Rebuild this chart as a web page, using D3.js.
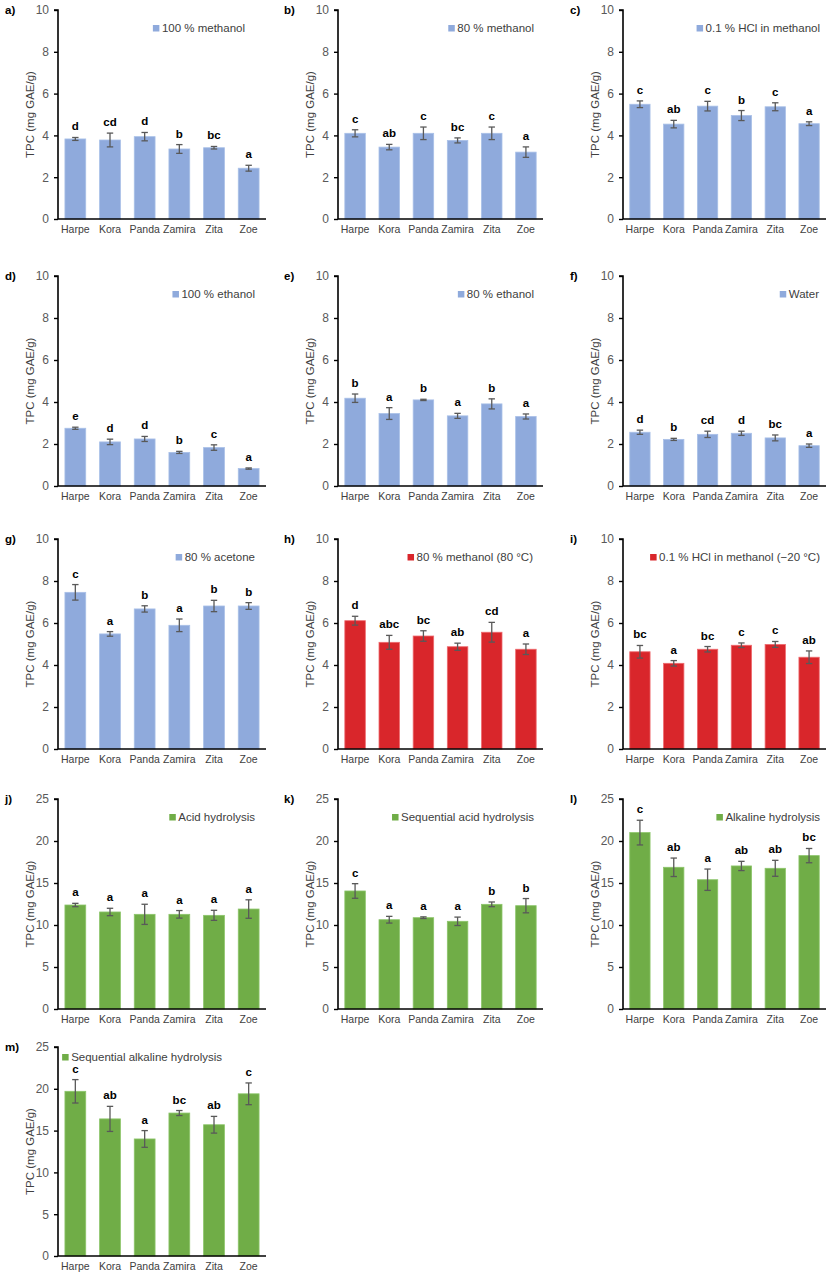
<!DOCTYPE html>
<html><head><meta charset="utf-8">
<script src="https://cdn.jsdelivr.net/npm/d3@7"></script>
<style>body{margin:0;background:#fff}svg{display:block}text{font-family:"Liberation Sans",Arial,sans-serif}</style>
</head><body><svg id="c" width="828" height="1276"></svg>
<script>
const categories = ["Harpe","Kora","Panda","Zamira","Zita","Zoe"];
const panelLabels = ["a)","b)","c)","d)","e)","f)","g)","h)","i)","j)","k)","l)","m)"];
const legendLabels = ["100 % methanol","80 % methanol","0.1 % HCl in methanol","100 % ethanol","80 % ethanol","Water","80 % acetone","80 % methanol (80 °C)","0.1 % HCl in methanol (−20 °C)","Acid hydrolysis","Sequential acid hydrolysis","Alkaline hydrolysis","Sequential alkaline hydrolysis"];
const seriesColor = ["blue","blue","blue","blue","blue","blue","blue","red","red","green","green","green","green"];
const yMax = [10,10,10,10,10,10,10,10,10,25,25,25,25];
const yTicks10 = [0,2,4,6,8,10];
const yTicks25 = [0,5,10,15,20,25];

const meanA = [3.83,3.78,3.94,3.35,3.41,2.43], errA = [0.07,0.33,0.20,0.21,0.06,0.14], letA = ["d","cd","d","b","bc","a"];
const meanB = [4.10,3.44,4.10,3.76,4.10,3.20], errB = [0.17,0.13,0.30,0.12,0.30,0.25], letB = ["c","ab","c","bc","c","a"];
const meanC = [5.49,4.54,5.40,4.95,5.37,4.56], errC = [0.16,0.18,0.23,0.24,0.19,0.09], letC = ["c","ab","c","b","c","a"];
const meanD = [2.75,2.10,2.24,1.60,1.83,0.83], errD = [0.05,0.13,0.12,0.05,0.13,0.03], letD = ["e","d","d","b","c","a"];
const meanE = [4.18,3.45,4.10,3.34,3.91,3.31], errE = [0.20,0.28,0.03,0.12,0.24,0.12], letE = ["b","a","b","a","b","a"];
const meanF = [2.56,2.22,2.46,2.51,2.29,1.92], errF = [0.10,0.05,0.15,0.10,0.14,0.08], letF = ["d","b","cd","d","bc","a"];
const meanG = [7.46,5.48,6.67,5.89,6.81,6.81], errG = [0.37,0.11,0.15,0.30,0.27,0.16], letG = ["c","a","b","a","b","b"];
const meanH = [6.11,5.08,5.38,4.87,5.56,4.75], errH = [0.21,0.33,0.25,0.17,0.47,0.25], letH = ["d","abc","bc","ab","cd","a"];
const meanI = [4.63,4.08,4.75,4.94,4.98,4.37], errI = [0.30,0.13,0.13,0.11,0.14,0.30], letI = ["bc","a","bc","c","c","ab"];
const meanJ = [12.38,11.55,11.27,11.27,11.15,11.90], errJ = [0.20,0.44,1.20,0.45,0.60,1.10], letJ = ["a","a","a","a","a","a"];
const meanK = [14.05,10.63,10.87,10.44,12.46,12.30], errK = [0.87,0.40,0.10,0.50,0.28,0.85], letK = ["c","a","a","a","b","b"];
const meanL = [21.00,16.87,15.39,17.03,16.75,18.26], errL = [1.47,1.10,1.27,0.55,0.95,0.85], letL = ["c","ab","a","ab","ab","bc"];
const meanM = [19.70,16.40,14.00,17.10,15.70,19.40], errM = [1.40,1.50,1.00,0.30,1.00,1.30], letM = ["c","ab","a","bc","ab","c"];

const allMeans = [meanA,meanB,meanC,meanD,meanE,meanF,meanG,meanH,meanI,meanJ,meanK,meanL,meanM];
const allErrs = [errA,errB,errC,errD,errE,errF,errG,errH,errI,errJ,errK,errL,errM];
const allLetters = [letA,letB,letC,letD,letE,letF,letG,letH,letI,letJ,letK,letL,letM];

// layout
const colX = [[58,266],[338,543],[623,826]];
const rowY = [[10,219],[276,486],[539,749],[799,1009],[1047,1256]];
const labelX = [5,284,570];
const legendRight = [245,534,820,255,534,819,255,533,820,255,534,820,222];
const legendDy = [18,18,18,18,18,18,18,18,18,18,18,18,10];
const fills = {blue:"#8FAADC", red:"#D9262B", green:"#70AD47"};
const strokes = {blue:"#A9C0E8", red:"#EE6A6E", green:"#8CC56A"};

const svg = d3.select("#c");
for (let p = 0; p < 13; p++) {
  const col = p % 3, row = Math.floor(p / 3);
  const [x0, x1] = colX[col], [yT, yB] = rowY[row];
  const x = d3.scaleBand().domain(categories).range([x0, x1]).paddingInner(0.4).paddingOuter(0.2);
  const y = d3.scaleLinear().domain([0, yMax[p]]).range([yB, yT]);
  const g = svg.append("g");
  const ticks = yMax[p] === 10 ? yTicks10 : yTicks25;

  // y axis
  const ya = g.append("g").attr("transform", `translate(${x0},0)`)
    .call(d3.axisLeft(y).tickValues(ticks).tickSize(4).tickPadding(5));
  ya.select(".domain").attr("stroke", "#000").attr("stroke-width", 1.6).attr("d", `M-4,${yT}H0V${yB}`);
  ya.selectAll(".tick line").attr("stroke", "#000").attr("stroke-width", 1.4);
  ya.selectAll(".tick text").attr("fill", "#595959").style("font-size", "12px");

  // bars
  g.selectAll("rect.bar").data(categories).join("rect")
    .attr("x", d => x(d)).attr("width", x.bandwidth())
    .attr("y", (d, i) => y(allMeans[p][i]))
    .attr("height", (d, i) => y(0) - y(allMeans[p][i]))
    .attr("fill", fills[seriesColor[p]]).attr("stroke", strokes[seriesColor[p]]).attr("stroke-width", 0.8);

  // x axis
  const xa = g.append("g").attr("transform", `translate(0,${yB})`)
    .call(d3.axisBottom(x).tickSize(0).tickPadding(7));
  xa.select(".domain").attr("stroke", "#000").attr("stroke-width", 1.6).attr("d", `M${x0},0H${x1}`);
  xa.selectAll(".tick text").attr("fill", "#404040").style("font-size", "10.5px");

  // error bars
  const cap = 3.2;
  categories.forEach((c, i) => {
    const cx = x(c) + x.bandwidth() / 2;
    const m = allMeans[p][i], e = allErrs[p][i];
    const eg = g.append("g").attr("stroke", "#595959").attr("stroke-width", 1.3).attr("fill", "none");
    eg.append("line").attr("x1", cx).attr("x2", cx).attr("y1", y(m + e)).attr("y2", y(m - e));
    eg.append("line").attr("x1", cx - cap).attr("x2", cx + cap).attr("y1", y(m + e)).attr("y2", y(m + e));
    eg.append("line").attr("x1", cx - cap).attr("x2", cx + cap).attr("y1", y(m - e)).attr("y2", y(m - e));
    g.append("text").attr("x", cx).attr("y", y(m + e) - 7).attr("text-anchor", "middle")
      .attr("font-weight", "bold").style("font-size", "11.5px").attr("fill", "#000").text(allLetters[p][i]);
  });

  // y title
  g.append("text").attr("transform", `translate(${x0 - 24},${(yT + yB) / 2}) rotate(-90)`)
    .attr("text-anchor", "middle").style("font-size", "11.5px").attr("fill", "#404040").text("TPC (mg GAE/g)");

  // panel label
  g.append("text").attr("x", labelX[col]).attr("y", yT + 4).attr("font-weight", "bold")
    .style("font-size", "11.5px").attr("fill", "#000").text(panelLabels[p]);

  // legend
  const ly = yT + legendDy[p];
  const lt = g.append("text").attr("x", legendRight[p]).attr("y", ly + 4).attr("text-anchor", "end")
    .style("font-size", "11.5px").attr("fill", "#404040").text(legendLabels[p]);
  const tw = lt.node().getComputedTextLength();
  g.append("rect").attr("x", legendRight[p] - tw - 9).attr("y", ly - 3).attr("width", 6.5).attr("height", 6.5)
    .attr("fill", fills[seriesColor[p]]);
}
</script></body></html>
